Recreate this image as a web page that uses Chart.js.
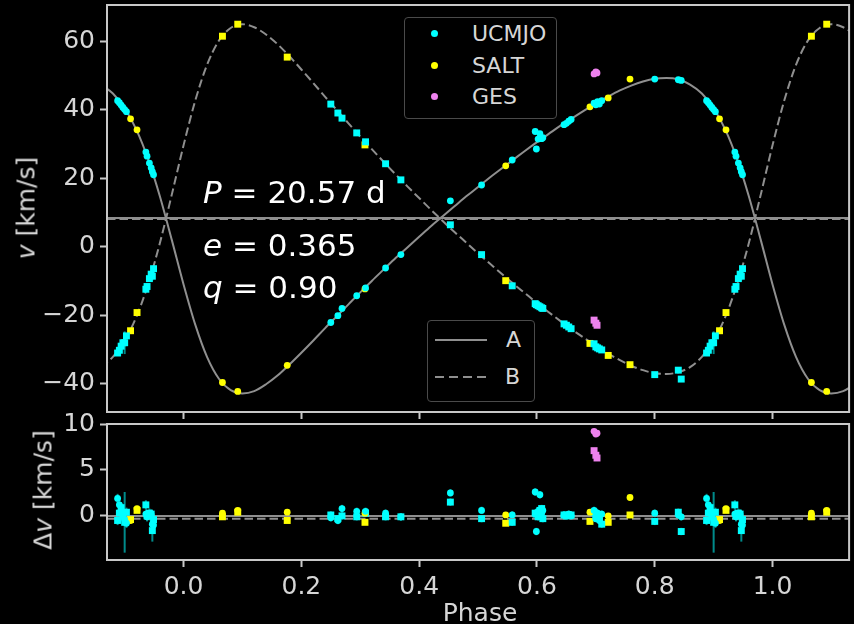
<!DOCTYPE html>
<html>
<head>
<meta charset="utf-8">
<script src="https://cdn.jsdelivr.net/npm/chart.js@4.4.1/dist/chart.umd.min.js"></script>
<style>
  html, body { margin: 0; padding: 0; background: #000; }
  #fig { position: relative; width: 854px; height: 624px; background: #000; overflow: hidden;
         font-family: 'DejaVu Sans', sans-serif; color: #d6d6d6; }
  #fig canvas { position: absolute; left: 0; }
  #rvTop { top: 0; }
  #rvRes { top: 395px; }
  .axlab { position: absolute; white-space: nowrap; font-size: 25px; line-height: 25px;
           transform: translate(-50%, -50%) rotate(-90deg); }
  .note { position: absolute; left: 203px; white-space: nowrap; font-size: 31px; line-height: 31px; color: #fff; }
  .legend { position: absolute; border: 1px solid #4a4a4a; border-radius: 4px; background: #000; }
  .lgtext { position: absolute; font-size: 22px; line-height: 22px; white-space: nowrap; }
  .dot { position: absolute; width: 7px; height: 7px; border-radius: 50%; }
</style>
</head>
<body>
<div id="fig">
  <canvas id="rvTop" width="854" height="421"></canvas>
  <canvas id="rvRes" width="854" height="229"></canvas>

  <div class="axlab" style="left:26px;top:208px"><i>v</i> [km/s]</div>
  <div class="axlab" style="left:43px;top:490px">Δ<i>v</i> [km/s]</div>
  <div style="position:absolute;left:480px;top:600px;transform:translateX(-50%);font-size:25px;line-height:25px">Phase</div>

  <div class="note" style="top:177px"><i>P</i> = 20.57 d</div>
  <div class="note" style="top:230px"><i>e</i> = 0.365</div>
  <div class="note" style="top:272px"><i>q</i> = 0.90</div>

  <!-- instrument legend -->
  <div class="legend" style="left:404px;top:17px;width:151px;height:100px"></div>
  <div class="dot" style="left:431px;top:30px;background:#00ffff"></div>
  <div class="dot" style="left:431px;top:62px;background:#ffff00"></div>
  <div class="dot" style="left:431px;top:93px;background:#ee82ee"></div>
  <div class="lgtext" style="left:472px;top:23px">UCMJO</div>
  <div class="lgtext" style="left:472px;top:55px">SALT</div>
  <div class="lgtext" style="left:472px;top:86px">GES</div>

  <!-- component legend -->
  <div class="legend" style="left:427px;top:320px;width:106px;height:80px"></div>
  <div style="position:absolute;left:435px;top:339px;width:52px;height:2px;background:#8f8f8f"></div>
  <div style="position:absolute;left:435px;top:376px;width:52px;height:2px;
              background:repeating-linear-gradient(90deg,#8f8f8f 0 9px,transparent 9px 14px)"></div>
  <div class="lgtext" style="left:506px;top:329px">A</div>
  <div class="lgtext" style="left:505px;top:366px">B</div>
</div>

<script>
// axis ranges and ticks
const xMin = -0.13;
const xMax = 1.13;
const xTicks = [0, 0.2, 0.4, 0.6, 0.8, 1.0];
const vTicks = [-40, -20, 0, 20, 40, 60];
const dvTicks = [0, 5, 10];

// systemic velocities of the two components
const gammaA = 8.4;
const gammaB = 8.1;

// orbital solution sampled in phase (km/s)
const modelPhase = [-0.14, -0.12, -0.10, -0.08, -0.06, -0.04, -0.02, 0.00, 0.02, 0.04, 0.06, 0.08, 0.10,
  0.12, 0.14, 0.16, 0.18, 0.20, 0.22, 0.24, 0.26, 0.28, 0.30, 0.32, 0.34, 0.36, 0.38, 0.40, 0.42, 0.44,
  0.46, 0.48, 0.50, 0.52, 0.54, 0.56, 0.58, 0.60, 0.62, 0.64, 0.66, 0.68, 0.70, 0.72, 0.74, 0.76, 0.78,
  0.80, 0.82, 0.84, 0.86, 0.88, 0.90, 0.92, 0.94, 0.96, 0.98, 1.00, 1.02, 1.04, 1.06, 1.08, 1.10, 1.12, 1.14];
const modelA = [47.3, 44.7, 40.4, 34.1, 25.5, 14.6, 2.0, -11.0, -22.8, -32.2, -38.5, -41.8, -42.8,
  -42.1, -40.1, -37.5, -34.3, -30.9, -27.4, -23.8, -20.3, -16.8, -13.3, -9.9, -6.6, -3.3, -0.2, 2.9, 6.0, 8.9,
  11.8, 14.7, 17.4, 20.2, 22.8, 25.4, 28.0, 30.5, 32.9, 35.3, 37.5, 39.7, 41.8, 43.7, 45.5, 47.0, 48.2,
  49.0, 49.2, 48.8, 47.3, 44.7, 40.4, 34.1, 25.5, 14.6, 2.0, -11.0, -22.8, -32.2, -38.5, -41.8, -42.8, -42.1, -40.1];
const modelB = [-35.1, -32.1, -27.3, -20.4, -10.8, 1.2, 15.2, 29.6, 42.7, 53.1, 60.1, 63.8, 64.9,
  64.0, 61.9, 59.0, 55.5, 51.7, 47.8, 43.8, 39.9, 36.0, 32.1, 28.4, 24.7, 21.1, 17.6, 14.2, 10.8, 7.5,
  4.3, 1.2, -1.9, -4.9, -7.9, -10.8, -13.6, -16.4, -19.1, -21.7, -24.2, -26.6, -28.9, -31.1, -33.0, -34.7, -36.0,
  -36.9, -37.1, -36.6, -35.1, -32.1, -27.3, -20.4, -10.8, 1.2, 15.2, 29.6, 42.7, 53.1, 60.1, 63.8, 64.9, 64.0, 61.9];

// UCMJO measurements
const ucmjoPhase = [0.250, 0.262, 0.269, 0.294, 0.309, 0.343, 0.369, 0.453, 0.506, 0.558,
  0.597, 0.599, 0.602, 0.605, 0.608, 0.610, 0.646, 0.650, 0.654, 0.658,
  0.697, 0.700, 0.703, 0.706, 0.710, 0.800, 0.840, 0.845,
  0.888, 0.891, 0.894, 0.897, 0.900, 0.903, 0.936, 0.938, 0.942, 0.945, 0.947, 0.949];
const ucmjoA = [-22.1, -20.1, -18.0, -14.3, -12.0, -6.2, -2.3, 13.4, 18.0, 25.3,
  33.6, 28.5, 31.4, 33.0, 31.5, 31.8, 35.6, 36.0, 36.6, 37.1,
  41.9, 41.4, 42.3, 41.6, 42.6, 48.9, 48.7, 48.5,
  42.6, 42.0, 41.3, 40.6, 40.0, 39.4, 27.6, 26.4, 24.4, 23.0, 21.9, 21.0];
const ucmjoB = [41.6, 39.0, 37.5, 33.2, 30.6, 24.2, 19.5, 6.4, -2.3, -11.4,
  -16.6, -16.9, -17.2, -17.5, -17.8, -18.0, -22.5, -22.9, -23.4, -23.9,
  -28.3, -29.2, -29.5, -29.8, -30.1, -37.3, -36.0, -38.6,
  -31.0, -30.2, -29.0, -28.0, -28.0, -26.0, -12.4, -11.6, -9.3, -8.0, -8.6, -6.4];
const ucmjoResA = [-0.2, -0.5, 0.8, 0.5, 0.5, 0.3, -0.1, 2.5, 0.6, 0.1,
  2.6, -1.7, 0.5, 2.3, 0.3, 0.6, 0.1, 0.0, 0.2, 0.0,
  0.6, -0.3, 0.3, -0.5, 0.2, 0.3, 0.1, -0.1,
  1.9, 1.2, 0.6, 0.2, -0.4, -0.8, 0.2, -0.1, 0.0, 0.1, -0.9, -1.0];
const ucmjoResB = [0.1, -0.3, 0.0, -0.1, 0.3, -0.1, -0.1, 1.5, -0.3, -0.7,
  0.3, 0.2, -0.1, 0.6, 0.8, -0.3, 0.1, 0.0, 0.1, 0.1,
  0.4, 0.0, 0.0, -0.2, -0.9, -0.6, 0.4, -1.7,
  -0.5, 0.3, 0.9, 0.0, -0.7, 0.4, 1.2, 0.0, 0.3, 0.2, -1.6, -0.4];
const ucmjoErrA = [0.4, 0.4, 0.4, 0.4, 0.4, 0.4, 0.4, 0.4, 0.4, 0.4,
  0.4, 0.4, 0.4, 0.4, 0.4, 0.4, 0.4, 0.4, 0.4, 0.4,
  0.4, 0.4, 0.4, 0.4, 0.4, 0.4, 0.4, 0.4,
  0.5, 0.5, 0.5, 0.5, 0.5, 0.5, 0.5, 0.5, 0.5, 0.5, 0.5, 0.5];
const ucmjoErrB = [0.4, 0.4, 0.4, 0.4, 0.4, 0.4, 0.4, 0.4, 0.4, 0.4,
  0.4, 0.4, 0.4, 0.4, 0.4, 0.4, 0.4, 0.4, 0.4, 0.4,
  0.4, 0.4, 0.4, 0.4, 0.4, 0.4, 0.4, 0.4,
  0.5, 0.5, 0.5, 0.5, 3.3, 0.5, 0.5, 0.5, 0.5, 0.5, 1.2, 0.5];

// SALT measurements
const saltPhase = [0.066, 0.092, 0.176, 0.308, 0.547, 0.690, 0.721, 0.758, 0.910, 0.921];
const saltA = [-39.6, -42.2, -34.6, -12.3, 23.6, 40.8, 43.4, 48.9, 37.3, 34.1];
const saltB = [61.4, 64.9, 55.3, 29.7, -9.9, -28.2, -31.7, -34.4, -24.5, -19.2];
const saltResA = [0.3, 0.6, 0.4, 0.3, 0.1, 0.4, 0.0, 2.0, -0.5, 0.8];
const saltResB = [-0.1, 0.4, -0.5, -0.7, -0.8, -0.6, -0.7, 0.1, -0.4, 0.6];

// GES measurements
const gesPhase = [0.697, 0.700, 0.702];
const gesA = [50.4, 51.0, 50.7];
const gesB = [-21.4, -22.3, -22.9];
const gesResA = [9.2, 8.9, 9.0];
const gesResB = [7.1, 6.6, 6.3];

const frameColor = '#c8c8c8';
const labelColor = '#d6d6d6';
const curveColor = '#8f8f8f';
const errColor = '#008b8b';
const fontFamily = "'DejaVu Sans', sans-serif";

// repeat each point one cycle either side so the wings of the plot are filled
function fold(phases, values, errs) {
  const pts = [];
  phases.forEach((p, i) => {
    [p - 1, p, p + 1].forEach((x) => {
      if (x >= xMin && x <= xMax) pts.push({ x, y: values[i], e: errs ? errs[i] : 0 });
    });
  });
  return pts;
}

function curve(xs, ys) {
  return xs.map((x, i) => ({ x, y: ys[i] }));
}

function hline(y, dashed) {
  return {
    data: [{ x: xMin, y }, { x: xMax, y }],
    showLine: true, pointRadius: 0, borderColor: curveColor, borderWidth: 2,
    borderDash: dashed ? [8.5, 4] : [], order: 9,
  };
}

function markers(data, color, square) {
  return {
    data,
    showLine: false,
    pointStyle: square ? 'rect' : 'circle',
    pointRadius: square ? 4.9 : 3.4,
    pointBackgroundColor: color,
    pointBorderWidth: 0,
    order: square ? 2 : 1,
  };
}

// vertical error bars under the markers
const errorBars = {
  id: 'errorBars',
  beforeDatasetsDraw(chart) {
    const { ctx, scales } = chart;
    ctx.save();
    ctx.strokeStyle = errColor;
    ctx.lineWidth = 2;
    chart.data.datasets.forEach((ds, di) => {
      if (!ds.errBars) return;
      const meta = chart.getDatasetMeta(di);
      meta.data.forEach((pt, i) => {
        const d = ds.data[i];
        if (!d.e) return;
        ctx.beginPath();
        ctx.moveTo(pt.x, scales.y.getPixelForValue(d.y - d.e));
        ctx.lineTo(pt.x, scales.y.getPixelForValue(d.y + d.e));
        ctx.stroke();
      });
    });
    ctx.restore();
  },
};

// box round the plotting area
const frame = {
  id: 'frame',
  afterDraw(chart) {
    const { ctx, chartArea: a } = chart;
    ctx.save();
    ctx.strokeStyle = frameColor;
    ctx.lineWidth = 2;
    ctx.strokeRect(a.left, a.top, a.right - a.left, a.bottom - a.top);
    ctx.restore();
  },
};

// no room reserved for overhanging end labels: the panels are placed by hand
function noOverhang(s) {
  s.paddingTop = 0;
  s.paddingBottom = 0;
  s.paddingLeft = 0;
  s.paddingRight = 0;
}

function xScale(labels, height) {
  return {
    type: 'linear', min: xMin, max: xMax,
    afterBuildTicks: (s) => { s.ticks = xTicks.map((v) => ({ value: v })); },
    afterFit: (s) => { s.height = height; noOverhang(s); },
    border: { display: false },
    grid: { drawOnChartArea: false, drawTicks: true, tickLength: 7, tickWidth: 2, tickColor: frameColor },
    ticks: {
      display: labels, autoSkip: false, maxRotation: 0, padding: 5, color: labelColor,
      font: { family: fontFamily, size: 25 },
      callback: (v) => Number(v).toFixed(1),
    },
  };
}

function yScale(min, max, ticks) {
  return {
    type: 'linear', min, max,
    afterBuildTicks: (s) => { s.ticks = ticks.map((v) => ({ value: v })); },
    afterFit: (s) => { s.width = 107; noOverhang(s); },
    border: { display: false },
    grid: { drawOnChartArea: false, drawTicks: true, tickLength: 7, tickWidth: 2, tickColor: frameColor },
    ticks: {
      autoSkip: false, padding: 5, color: labelColor,
      font: { family: fontFamily, size: 25 },
      callback: (v) => String(v).replace('-', '\u2212'),
    },
  };
}

const baseOptions = {
  responsive: false,
  animation: false,
  devicePixelRatio: 1,
  events: [],
  plugins: { legend: { display: false }, tooltip: { enabled: false } },
};

// radial velocities
const ucA = fold(ucmjoPhase, ucmjoA, ucmjoErrA);
const ucB = fold(ucmjoPhase, ucmjoB, ucmjoErrB);
new Chart(document.getElementById('rvTop'), {
  type: 'scatter',
  data: {
    datasets: [
      { data: curve(modelPhase, modelA), showLine: true, pointRadius: 0, borderColor: curveColor,
        borderWidth: 2, cubicInterpolationMode: 'monotone', order: 8 },
      { data: curve(modelPhase, modelB), showLine: true, pointRadius: 0, borderColor: curveColor,
        borderWidth: 2, borderDash: [8.5, 4], cubicInterpolationMode: 'monotone', order: 8 },
      hline(gammaA, false),
      hline(gammaB, true),
      Object.assign(markers(ucB, '#00ffff', true), { errBars: true }),
      Object.assign(markers(ucA, '#00ffff', false), { errBars: true }),
      markers(fold(saltPhase, saltB), '#ffff00', true),
      markers(fold(saltPhase, saltA), '#ffff00', false),
      markers(fold(gesPhase, gesB), '#ee82ee', true),
      markers(fold(gesPhase, gesA), '#ee82ee', false),
    ],
  },
  options: Object.assign({}, baseOptions, {
    layout: { padding: { left: 0, right: 2, top: 5, bottom: 0 } },
    scales: { x: xScale(false, 9), y: yScale(-48.2, 70.5, vTicks) },
  }),
  plugins: [errorBars, frame],
});

// residuals O - C
new Chart(document.getElementById('rvRes'), {
  type: 'scatter',
  data: {
    datasets: [
      hline(0, false),
      hline(gammaB - gammaA, true),
      Object.assign(markers(fold(ucmjoPhase, ucmjoResB, ucmjoErrB), '#00ffff', true), { errBars: true }),
      Object.assign(markers(fold(ucmjoPhase, ucmjoResA, ucmjoErrA), '#00ffff', false), { errBars: true }),
      markers(fold(saltPhase, saltResB), '#ffff00', true),
      markers(fold(saltPhase, saltResA), '#ffff00', false),
      markers(fold(gesPhase, gesResB), '#ee82ee', true),
      markers(fold(gesPhase, gesResA), '#ee82ee', false),
    ],
  },
  options: Object.assign({}, baseOptions, {
    layout: { padding: { left: 0, right: 2, top: 29, bottom: 0 } },
    scales: { x: xScale(true, 64), y: yScale(-4.8, 10, dvTicks) },
  }),
  plugins: [errorBars, frame],
});
</script>
</body>
</html>
